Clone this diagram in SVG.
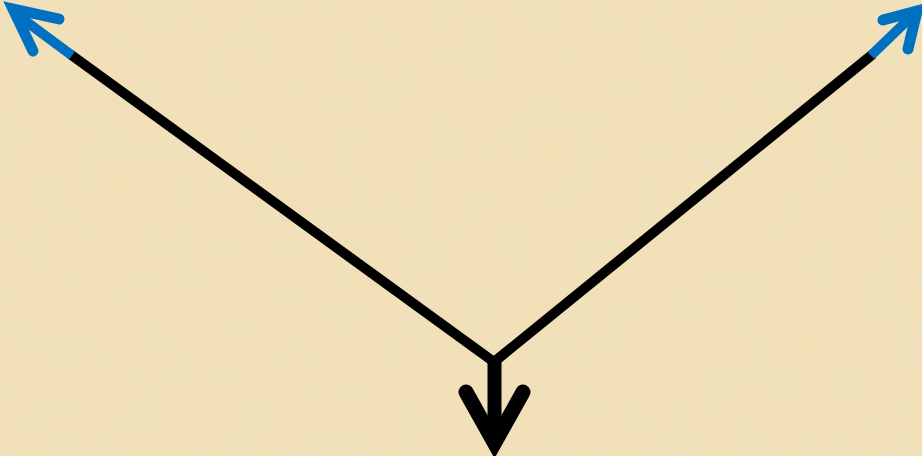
<svg xmlns="http://www.w3.org/2000/svg" width="922" height="456" viewBox="0 0 922 456">
<defs>
<filter id="tex" x="0" y="0" width="100%" height="100%">
<feTurbulence type="fractalNoise" baseFrequency="0.03" numOctaves="4" seed="3" result="n"/>
<feColorMatrix in="n" type="matrix" values="0 0 0 0 0.87  0 0 0 0 0.76  0 0 0 0 0.52  0 0 0 1.2 -0.3" result="c"/>
<feComposite in="c" in2="SourceGraphic" operator="over"/>
</filter>
<style>
.blk{fill:none;stroke:#000;stroke-width:10;stroke-linecap:butt}
.blu{fill:none;stroke:#0070c0;stroke-width:10;stroke-linecap:butt}
.bhead{fill:none;stroke:#0070c0;stroke-width:11;stroke-linecap:round;stroke-linejoin:miter;stroke-miterlimit:10}
.khead{fill:none;stroke:#000;stroke-width:15;stroke-linecap:round;stroke-linejoin:miter;stroke-miterlimit:10}
</style>
</defs>
<rect width="922" height="456" fill="#f1e0b6" filter="url(#tex)"/>
<g id="connectors">
<g id="arrow-left">
<line class="blk" x1="494" y1="362" x2="70" y2="54"/>
<line class="blu" x1="72" y1="55.5" x2="16" y2="14"/>
<polyline class="bhead" points="59,19 13,9 33,51"/>
</g>
<g id="arrow-right">
<line class="blk" x1="494" y1="362" x2="873" y2="54"/>
<line class="blu" x1="871" y1="55.5" x2="914" y2="14"/>
<polyline class="bhead" points="883,20 917,11 908,49"/>
</g>
<g id="arrow-down">
<line class="blk" x1="494.5" y1="358" x2="494.5" y2="440" style="stroke-width:14"/>
<polyline class="khead" points="466,392 494.5,443 523,392"/>
</g>
</g>
</svg>
